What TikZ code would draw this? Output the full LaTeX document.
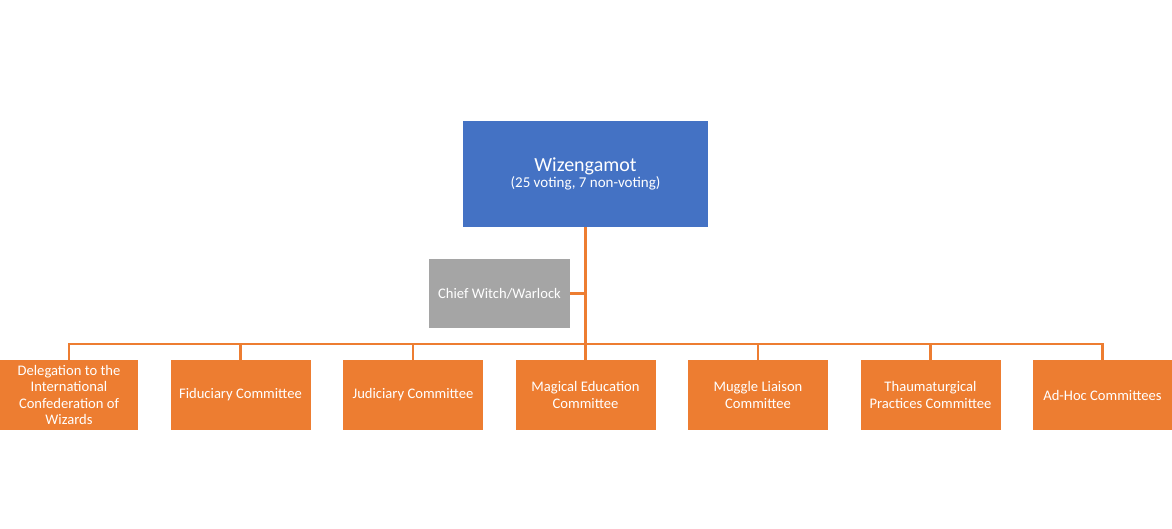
\documentclass[tikz,border=0pt]{standalone}
\usepackage{fontspec}
\setmainfont{Carlito}
\definecolor{wblue}{HTML}{4472C4}
\definecolor{worange}{HTML}{ED7D31}
\definecolor{wgrey}{HTML}{A5A5A5}
\begin{document}
\begin{tikzpicture}[x=1pt,y=-1pt,
  box/.style={draw=none,inner sep=1pt,text=white,align=center,font=\fontsize{14.6}{16.6}\selectfont},
  topbox/.style={box,fill=wblue,minimum width=245pt,minimum height=106pt},
  chiefbox/.style={box,fill=wgrey,minimum width=141pt,minimum height=69pt},
  combox/.style={box,fill=worange,minimum width=140pt,minimum height=70pt},
  link/.style={draw=worange,line width=2.2pt}]
\useasboundingbox (0,0) rectangle (1172,529);
\node[topbox] (wiz) at (585.5,174) {{\fontsize{20}{22}\selectfont Wizengamot}\\[-1pt]{\fontsize{15}{17}\selectfont (25 voting, 7 non-voting)}};
\node[chiefbox] (chief) at (499.5,293.5) {Chief Witch/Warlock};
\node[combox,minimum width=138pt] (c1) at (69,395) {Delegation to the\\International\\Confederation of\\Wizards};
\node[combox] (c2) at (240.5,395) {Fiduciary Committee};
\node[combox] (c3) at (413,395) {Judiciary Committee};
\node[combox] (c4) at (585.5,395) {Magical Education\\Committee};
\node[combox] (c5) at (758,395) {Muggle Liaison\\Committee};
\node[combox] (c6) at (930.5,395) {Thaumaturgical\\Practices Committee};
\node[combox,minimum width=139pt] (c7) at (1102.5,395) {Ad-Hoc Committees};
\coordinate (bus) at (585.5,344);
\draw[link] (wiz.south) -- (bus);
\draw[link] (chief.east) -- (chief.east -| wiz.south);
\draw[link] (c1.north) |- (bus) -| (c7.north);
\foreach \c in {c2,c3,c4,c5,c6}{
  \draw[link] (\c.north) -- (\c.north |- bus);
}
\end{tikzpicture}
\end{document}
